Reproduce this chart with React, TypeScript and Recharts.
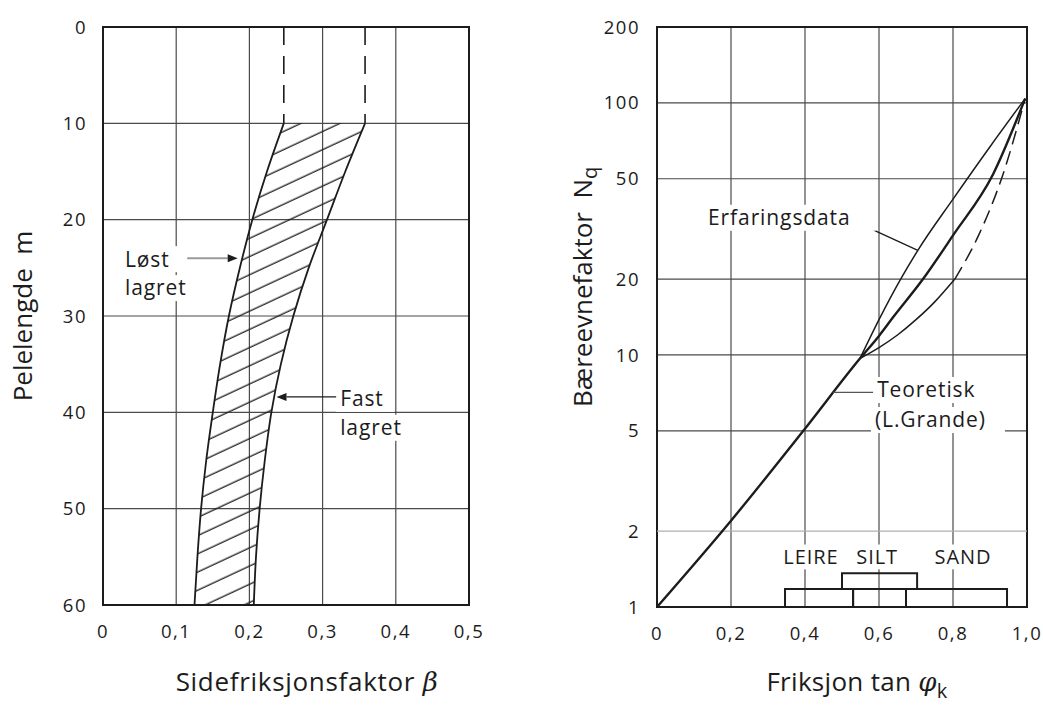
import React from 'react';
import {
  ComposedChart,
  Area,
  Line,
  XAxis,
  YAxis,
  CartesianGrid,
  ReferenceArea,
  ReferenceLine,
  ReferenceDot,
} from 'recharts';

const FONT = '"Open Sans", "DejaVu Sans", sans-serif';
const INK = '#1c1c1c';
const GRID = '#4a4a4a';

// ---------- Left chart: Sidefriksjonsfaktor beta vs pelelengde ----------
const depthValues = [10, 15, 20, 25, 30, 35, 40, 45, 50, 55, 60];
const lostLagret = [0.247, 0.224, 0.204, 0.187, 0.172, 0.16, 0.15, 0.141, 0.134, 0.129, 0.125];
const fastLagret = [0.358, 0.331, 0.306, 0.281, 0.26, 0.243, 0.23, 0.221, 0.214, 0.209, 0.206];
const dashDepths = [0, 10];
const dashLost = [0.247, 0.247];
const dashFast = [0.358, 0.358];
const betaTicks = [0, 0.1, 0.2, 0.3, 0.4, 0.5];
const betaTickLabels = ['0', '0,1', '0,2', '0,3', '0,4', '0,5'];
const depthTicks = [0, 10, 20, 30, 40, 50, 60];

// ---------- Right chart: Bæreevnefaktor Nq vs tan phi ----------
const tanTicks = [0, 0.2, 0.4, 0.6, 0.8, 1.0];
const tanTickLabels = ['0', '0,2', '0,4', '0,6', '0,8', '1,0'];
const nqTicks = [1, 2, 5, 10, 20, 50, 100, 200];
const nqGridStrong = [5, 10, 20, 50, 100];
const nqGridFaint = [2];
const teoTan = [0, 0.2, 0.4, 0.549, 0.6, 0.638, 0.719, 0.8, 0.908, 0.995];
const teoNq = [1, 2.2, 5.1, 9.7, 11.9, 14.1, 20, 29.8, 52, 104];
const upperTan = [0.549, 0.6, 0.657, 0.705, 0.8, 0.9, 0.995];
const upperNq = [9.7, 13.8, 19.8, 26, 41.5, 67, 104];
const lowerTan = [0.549, 0.6, 0.65, 0.7, 0.75, 0.805];
const lowerNq = [9.7, 10.7, 12, 13.8, 16.2, 20];
const lowerDashTan = [0.805, 0.87, 0.935, 0.995];
const lowerDashNq = [20, 30, 52, 104];
const soilBoxFrom = [0.346, 0.53, 0.673, 0.5];
const soilBoxTo = [0.53, 0.673, 0.946, 0.703];
const soilBoxBottom = [1, 1, 1, 1.18];
const soilBoxTop = [1.18, 1.18, 1.18, 1.36];
const soilNames = ['LEIRE', 'SILT', 'SAND'];
const soilNameTan = [0.416, 0.595, 0.827];
const soilNameNq = 1.58;

// ---------- tables built for the library ----------
const bandData = depthValues.map((depth, i) => ({ depth, lost: lostLagret[i], fast: fastLagret[i] }));
const dashLostData = dashDepths.map((depth, i) => ({ depth, beta: dashLost[i] }));
const dashFastData = dashDepths.map((depth, i) => ({ depth, beta: dashFast[i] }));
const toXY = (xs: number[], ys: number[]) => xs.map((x, i) => ({ x, y: ys[i] }));
const teoData = toXY(teoTan, teoNq);
const upperData = toXY(upperTan, upperNq);
const lowerData = toXY(lowerTan, lowerNq);
const lowerDashData = toXY(lowerDashTan, lowerDashNq);

const fmtBeta = (v: number) => betaTickLabels[betaTicks.indexOf(v)] ?? String(v);
const fmtTan = (v: number) => tanTickLabels[tanTicks.indexOf(v)] ?? String(v);

const tickStyle = { fontSize: 18.5, fill: INK, fontFamily: FONT, letterSpacing: 1.5 };

const NoteText = (props: any) => {
  const { cx, cy, text, anchor = 'start', size = 21 } = props;
  const w = text.length * size * 0.6 + 8;
  const rx = anchor === 'middle' ? cx - w / 2 : anchor === 'end' ? cx - w : cx - 4;
  return (
    <g>
      <rect x={rx} y={cy - size * 0.62} width={w} height={size * 1.24} fill="#fff" />
      <text
        x={cx}
        y={cy}
        dy="0.35em"
        textAnchor={anchor}
        fontSize={size}
        fill={INK}
        fontFamily={FONT}
        letterSpacing={0.9}
      >
        {text}
      </text>
    </g>
  );
};

const Pointer = (props: any) => {
  const { x1, y1, x2, y2, color = INK, width = 1.3, arrow = false } = props;
  if ([x1, y1, x2, y2].some((v) => v == null || Number.isNaN(v))) return null;
  const ang = Math.atan2(y2 - y1, x2 - x1);
  const len = 10;
  const hw = 4;
  const bx = x2 - Math.cos(ang) * len;
  const by = y2 - Math.sin(ang) * len;
  const px = -Math.sin(ang) * hw;
  const py = Math.cos(ang) * hw;
  return (
    <g>
      <line x1={x1} y1={y1} x2={arrow ? bx : x2} y2={arrow ? by : y2} stroke={color} strokeWidth={width} />
      {arrow && <polygon points={`${x2},${y2} ${bx + px},${by + py} ${bx - px},${by - py}`} fill={INK} />}
    </g>
  );
};

const note = (x: number, y: number, text: string, anchor = 'start', size = 21, key?: string) => (
  <ReferenceDot
    key={key ?? text + x}
    x={x}
    y={y}
    r={0}
    ifOverflow="visible"
    shape={(p: any) => <NoteText {...p} text={text} anchor={anchor} size={size} />}
  />
);

const pointer = (
  from: [number, number],
  to: [number, number],
  opts: { color?: string; width?: number; arrow?: boolean },
  key: string,
) => (
  <ReferenceLine
    key={key}
    segment={[{ x: from[0], y: from[1] }, { x: to[0], y: to[1] }]}
    ifOverflow="visible"
    shape={(p: any) => <Pointer {...p} {...opts} />}
  />
);

function LeftChart() {
  return (
    <ComposedChart
      width={520}
      height={707}
      layout="vertical"
      data={bandData}
      margin={{ top: 27, right: 51, bottom: 12, left: 0 }}
    >
      <defs>
        <pattern id="hatch" patternUnits="userSpaceOnUse" width="14" height="16.5" patternTransform="rotate(-25)">
          <line x1="0" y1="8" x2="14" y2="8" stroke={INK} strokeWidth="1.3" />
        </pattern>
      </defs>
      <CartesianGrid stroke={GRID} strokeWidth={1.2} />
      <XAxis
        type="number"
        domain={[0, 0.5]}
        ticks={betaTicks}
        tickFormatter={fmtBeta}
        allowDataOverflow
        height={90}
        axisLine={false}
        tickLine={false}
        tickSize={0}
        tickMargin={20}
        tick={tickStyle}
      />
      <YAxis
        type="number"
        dataKey="depth"
        domain={[0, 60]}
        ticks={depthTicks}
        allowDataOverflow
        width={103}
        axisLine={false}
        tickLine={false}
        tickSize={0}
        tickMargin={16}
        tick={tickStyle}
      />
      <Area
        dataKey={(d: any) => [d.lost, d.fast]}
        type="monotone"
        fill="url(#hatch)"
        fillOpacity={1}
        stroke="none"
        isAnimationActive={false}
      />
      <Line dataKey="lost" type="monotone" stroke={INK} strokeWidth={1.8} dot={false} isAnimationActive={false} />
      <Line dataKey="fast" type="monotone" stroke={INK} strokeWidth={1.8} dot={false} isAnimationActive={false} />
      <Line data={dashLostData} dataKey="beta" stroke={INK} strokeWidth={1.6} strokeDasharray="18 11" dot={false} isAnimationActive={false} />
      <Line data={dashFastData} dataKey="beta" stroke={INK} strokeWidth={1.6} strokeDasharray="18 11" dot={false} isAnimationActive={false} />
      <ReferenceArea x1={0} x2={0.5} y1={0} y2={60} fill="none" stroke={INK} strokeWidth={2} ifOverflow="visible" />
      {pointer([0.115, 24], [0.184, 24], { color: '#9a9a9a', width: 2, arrow: true }, 'p1')}
      {pointer([0.32, 38.4], [0.237, 38.4], { color: INK, width: 1.4, arrow: true }, 'p2')}
      {note(0.03, 24.1, 'Løst', 'start', 21, 'n1')}
      {note(0.03, 27.1, 'lagret', 'start', 21, 'n2')}
      {note(0.324, 38.6, 'Fast', 'start', 21, 'n3')}
      {note(0.324, 41.6, 'lagret', 'start', 21, 'n4')}
      <text x={307} y={691} textAnchor="middle" fontSize={26} fill={INK} fontFamily={FONT} letterSpacing={0.7}>
        Sidefriksjonsfaktor{' '}
        <tspan fontStyle="italic" fontFamily="'DejaVu Serif', serif">
          β
        </tspan>
      </text>
      <text
        transform="translate(31.5,316) rotate(-90)"
        textAnchor="middle"
        fontSize={26}
        fill={INK}
        fontFamily={FONT}
        style={{ whiteSpace: 'pre' }}
      >
        {'Pelelengde  m'}
      </text>
    </ComposedChart>
  );
}

function RightChart() {
  return (
    <ComposedChart width={523} height={707} margin={{ top: 27, right: 16, bottom: 12, left: 0 }}>
      <CartesianGrid stroke={GRID} strokeWidth={1.2} horizontalValues={nqGridStrong} />
      <XAxis
        type="number"
        dataKey="x"
        domain={[0, 1]}
        ticks={tanTicks}
        tickFormatter={fmtTan}
        allowDataOverflow
        height={88}
        axisLine={false}
        tickLine={false}
        tickSize={0}
        tickMargin={20}
        tick={tickStyle}
      />
      <YAxis
        type="number"
        scale="log"
        domain={[1, 200]}
        ticks={nqTicks}
        allowDataOverflow
        width={137}
        axisLine={false}
        tickLine={false}
        tickSize={0}
        tickMargin={17}
        tick={tickStyle}
      />
      {nqGridFaint.map((v) => (
        <ReferenceLine key={'faint' + v} y={v} stroke="#b0b0b0" strokeWidth={1.2} />
      ))}
      {soilBoxFrom.map((x1, i) => (
        <ReferenceArea
          key={'box' + i}
          x1={x1}
          x2={soilBoxTo[i]}
          y1={soilBoxBottom[i]}
          y2={soilBoxTop[i]}
          fill="#fff"
          fillOpacity={0}
          stroke={INK}
          strokeWidth={2}
          ifOverflow="visible"
        />
      ))}
      <Line data={upperData} dataKey="y" type="monotone" stroke={INK} strokeWidth={1.5} dot={false} isAnimationActive={false} />
      <Line data={lowerData} dataKey="y" type="monotone" stroke={INK} strokeWidth={1.5} dot={false} isAnimationActive={false} />
      <Line data={lowerDashData} dataKey="y" type="monotone" stroke={INK} strokeWidth={1.5} strokeDasharray="14 7" dot={false} isAnimationActive={false} />
      <Line data={teoData} dataKey="y" type="monotone" stroke={INK} strokeWidth={2.4} dot={false} isAnimationActive={false} />
      <ReferenceArea x1={0} x2={1} y1={1} y2={200} fill="none" stroke={INK} strokeWidth={2} ifOverflow="visible" />
      {pointer([0.543, 33.4], [0.705, 26], { color: INK, width: 1.3 }, 'q1')}
      {pointer([0.476, 7.1], [0.585, 7.1], { color: '#555', width: 1.3 }, 'q2')}
      {note(0.138, 35, 'Erfaringsdata', 'start', 21, 'm1')}
      {note(0.595, 7.26, 'Teoretisk', 'start', 21, 'm2')}
      {note(0.589, 5.52, '(L.Grande)', 'start', 21, 'm3')}
      {soilNames.map((name, i) => note(soilNameTan[i], soilNameNq, name, 'middle', 20, 'soil' + i))}
      <text x={337} y={691} textAnchor="middle" fontSize={26} fill={INK} fontFamily={FONT} letterSpacing={0.3}>
        Friksjon tan{' '}
        <tspan fontStyle="italic" fontFamily="'DejaVu Serif', serif">
          φ
        </tspan>
        <tspan fontSize={20} dy={7}>
          k
        </tspan>
      </text>
      <text
        transform="translate(72,407) rotate(-90)"
        textAnchor="start"
        fontSize={26}
        fill={INK}
        fontFamily={FONT}
        style={{ whiteSpace: 'pre' }}
      >
        {'Bæreevnefaktor  N'}
        <tspan fontSize={20} dy={5}>
          q
        </tspan>
      </text>
    </ComposedChart>
  );
}

export default function App() {
  return (
    <div
      style={{
        position: 'absolute',
        left: 0,
        top: 0,
        width: 1043,
        height: 707,
        background: '#fff',
        fontFamily: FONT,
        overflow: 'hidden',
      }}
    >
      <div style={{ position: 'absolute', left: 0, top: 0 }}>
        <LeftChart />
      </div>
      <div style={{ position: 'absolute', left: 520, top: 0 }}>
        <RightChart />
      </div>
    </div>
  );
}
